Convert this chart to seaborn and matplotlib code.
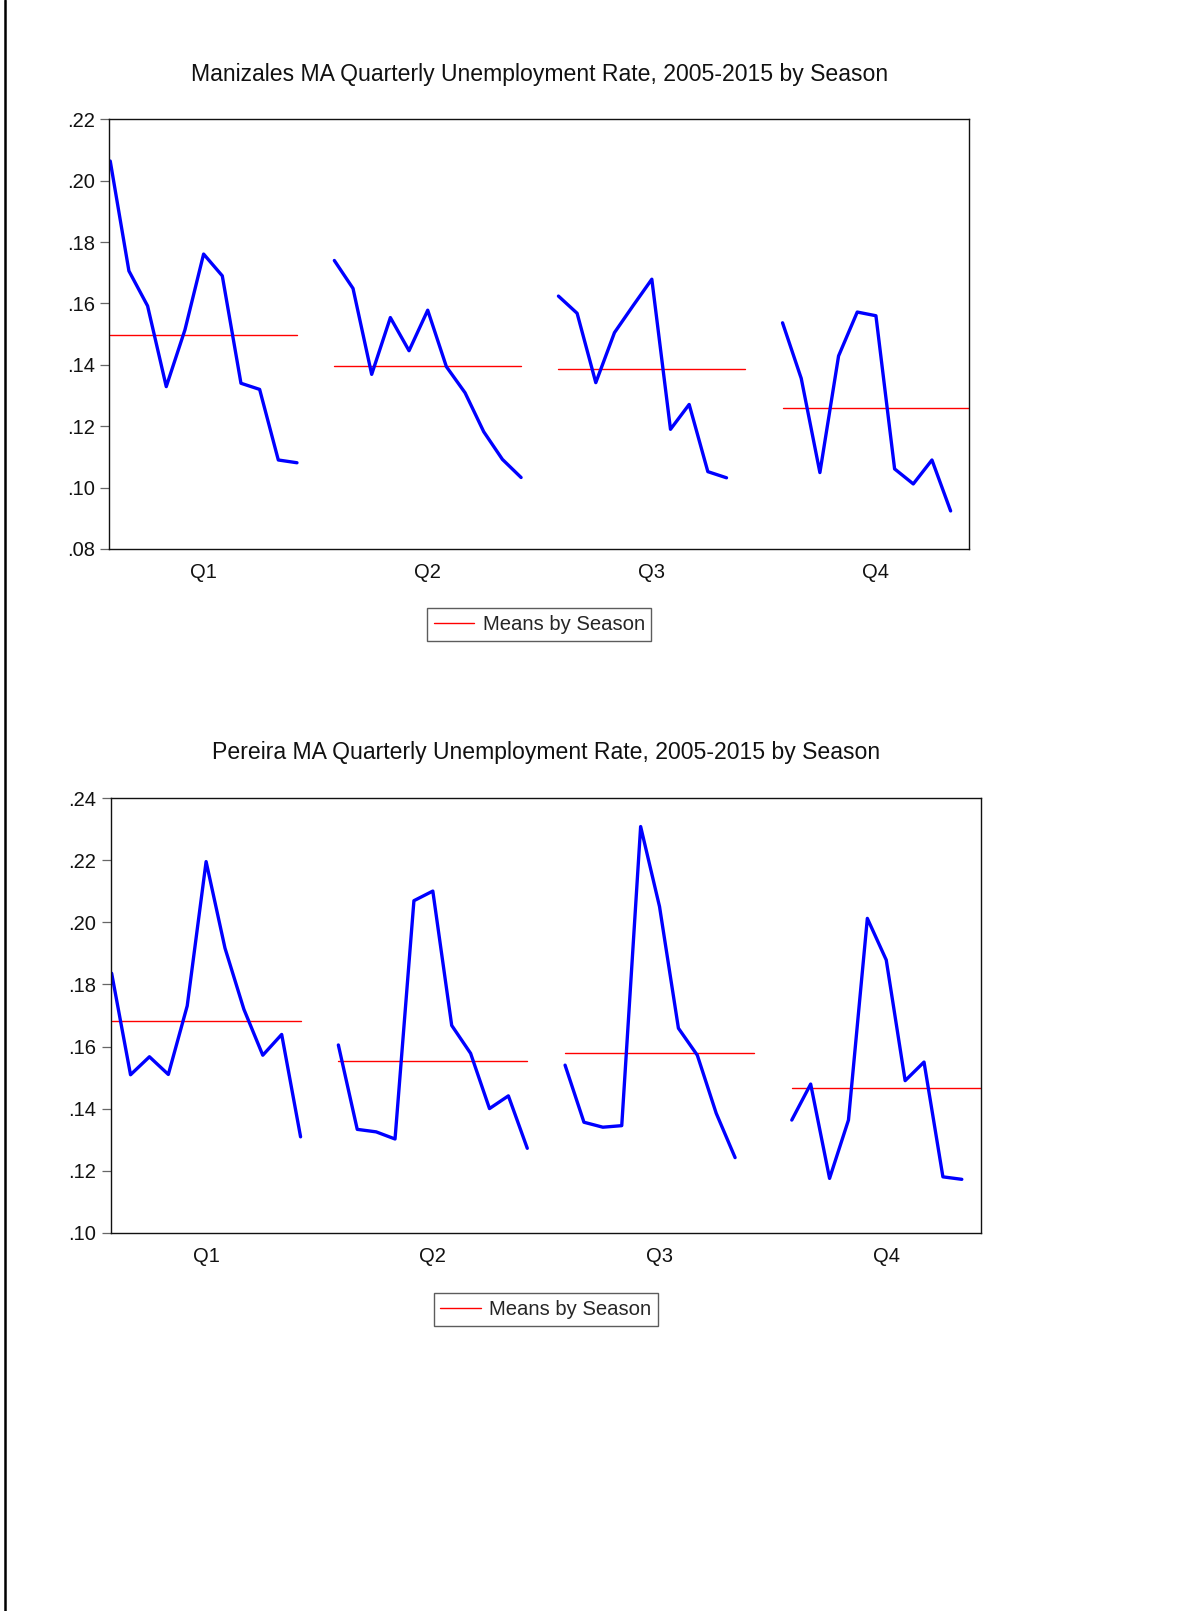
import numpy as np
import pandas as pd
import matplotlib
matplotlib.use("Agg")
import matplotlib.pyplot as plt
from matplotlib.lines import Line2D
from matplotlib.ticker import FuncFormatter
import seaborn as sns

# ---------------- data ----------------
seasons = ["Q1", "Q2", "Q3", "Q4"]
legend_label = "Means by Season"

man_title = "Manizales MA Quarterly Unemployment Rate, 2005-2015 by Season"
man_q1 = [0.2064, 0.1706, 0.1592, 0.1329, 0.1514, 0.1761, 0.1690, 0.1340, 0.1320, 0.1090, 0.1081]
man_q2 = [0.1740, 0.1649, 0.1369, 0.1554, 0.1446, 0.1578, 0.1394, 0.1309, 0.1182, 0.1092, 0.1033]
man_q3 = [0.1624, 0.1568, 0.1342, 0.1505, 0.1593, 0.1679, 0.1190, 0.1271, 0.1052, 0.1032]
man_q4 = [0.1537, 0.1356, 0.1049, 0.1429, 0.1572, 0.1560, 0.1061, 0.1012, 0.1090, 0.0924]
man_yticks = [0.08, 0.10, 0.12, 0.14, 0.16, 0.18, 0.20, 0.22]

per_title = "Pereira MA Quarterly Unemployment Rate, 2005-2015 by Season"
per_q1 = [0.1836, 0.1509, 0.1567, 0.1510, 0.1731, 0.2196, 0.1917, 0.1720, 0.1572, 0.1639, 0.1309]
per_q2 = [0.1605, 0.1333, 0.1325, 0.1302, 0.2070, 0.2101, 0.1668, 0.1578, 0.1400, 0.1441, 0.1272]
per_q3 = [0.1540, 0.1356, 0.1340, 0.1345, 0.2309, 0.2051, 0.1659, 0.1572, 0.1385, 0.1242]
per_q4 = [0.1363, 0.1479, 0.1175, 0.1363, 0.2013, 0.1879, 0.1490, 0.1550, 0.1180, 0.1172]
per_yticks = [0.10, 0.12, 0.14, 0.16, 0.18, 0.20, 0.22, 0.24]

# ---------------- style ----------------
sns.set_style("white")
plt.rcParams["font.family"] = ["Liberation Sans", "DejaVu Sans"]

W, H = 1201, 1611
DPI = 100
fig = plt.figure(figsize=(W / DPI, H / DPI), dpi=DPI)

SLOT = 12      # 11 years + 1 gap slot per season
SPAN = 10      # mean line spans 11 slots


def build_frames(series):
    rows, mrows = [], []
    for s, (name, vals) in enumerate(zip(seasons, series)):
        for i, v in enumerate(vals):
            rows.append({"pos": s * SLOT + i, "value": v, "season": name})
        m = float(np.mean(vals))
        mrows.append({"pos": s * SLOT, "value": m, "season": name})
        mrows.append({"pos": s * SLOT + SPAN, "value": m, "season": name})
    return pd.DataFrame(rows), pd.DataFrame(mrows)


def draw_panel(rect, title, series, yticks, title_y_px, legend_y):
    ax = fig.add_axes(rect)
    df, mdf = build_frames(series)
    sns.lineplot(data=mdf, x="pos", y="value", hue="season", palette=["red"] * 4,
                 linewidth=1.0, legend=False, ax=ax, estimator=None)
    sns.lineplot(data=df, x="pos", y="value", hue="season", palette=["blue"] * 4,
                 linewidth=2.4, legend=False, ax=ax, estimator=None)
    ax.set_xlim(-0.05, 4 * SLOT - 2)
    ax.set_ylim(yticks[0], yticks[-1])
    ax.set_yticks(yticks)
    ax.yaxis.set_major_formatter(FuncFormatter(lambda v, p: f"{v:.2f}"[1:]))
    ax.set_xticks([s * SLOT + 5 for s in range(4)])
    ax.set_xticklabels(seasons)
    ax.set_xlabel("")
    ax.set_ylabel("")
    ax.tick_params(axis="y", direction="out", length=6.5, width=0.9, color="#666666",
                   pad=4, labelsize=14.5, labelcolor="#111111", left=True)
    ax.tick_params(axis="x", length=0, pad=10, labelsize=14.5, labelcolor="#111111")
    for sp in ax.spines.values():
        sp.set_color("#111111")
        sp.set_linewidth(1.0)
    red_handle = ax.lines[0]
    leg = ax.legend([red_handle], [legend_label], loc="center",
                    bbox_to_anchor=(0.5, legend_y), frameon=True, fancybox=False,
                    fontsize=14.6, handlelength=2.0, handletextpad=0.4,
                    borderpad=0.33, borderaxespad=0)
    leg.get_frame().set_edgecolor("#333333")
    leg.get_frame().set_linewidth(1.0)
    cx = rect[0] + rect[2] / 2
    fig.text(cx, 1 - title_y_px / H, title, ha="center", va="center",
             fontsize=16.6, color="#111111")
    return ax


draw_panel([109.3 / W, 1 - 549 / H, 860 / W, 429.7 / H], man_title,
           [man_q1, man_q2, man_q3, man_q4], man_yticks, 75, -0.176)
draw_panel([110.7 / W, 1 - 1232.7 / H, 870 / W, 434.4 / H], per_title,
           [per_q1, per_q2, per_q3, per_q4], per_yticks, 753, -0.177)

# page border on the left
fig.add_artist(Line2D([4.5 / W, 4.5 / W], [0, 1], transform=fig.transFigure,
                      color="black", linewidth=1.8))

fig.savefig("out.png", dpi=DPI)
